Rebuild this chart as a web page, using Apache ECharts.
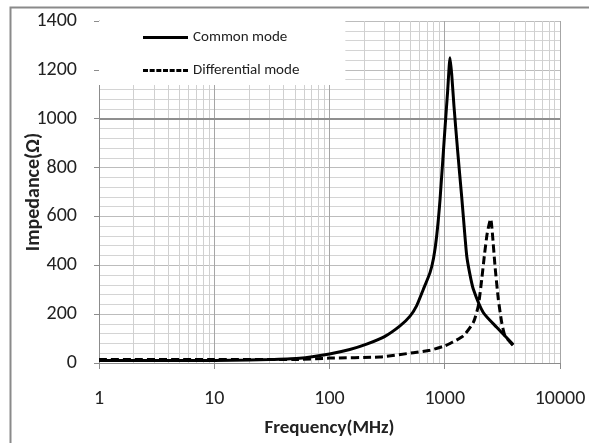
<!DOCTYPE html>
<html>
<head>
<meta charset="utf-8">
<script src="https://cdn.jsdelivr.net/npm/echarts@6/dist/echarts.min.js"></script>
<style>html,body{margin:0;padding:0;background:#fff;}#c{width:589px;height:443px;}</style>
</head>
<body>
<div id="c"></div>
<script>
// Data (frequency in MHz, impedance in Ohm)
var commonFreq = [1, 2, 5, 10, 20, 30, 55, 100, 150, 210, 300, 409, 500, 571, 650, 745, 800, 851, 910, 1000, 1060, 1111, 1150, 1203, 1300, 1403, 1449, 1550, 1650, 1771, 2158, 2823, 3936];
var commonZ    = [10, 10, 10, 10, 12, 14, 19, 37, 55, 77, 108, 152, 192, 235, 300, 370, 430, 520, 669, 947, 1114, 1250, 1180, 1050, 857, 680, 600, 440, 365, 302, 207, 146, 75];
var diffFreq = [1, 10, 50, 100, 274, 534, 745, 1000, 1111, 1449, 1771, 1955, 2094, 2205, 2340, 2504, 2588, 2729, 2917, 3121, 3333, 3936];
var diffZ    = [14, 14, 14, 20, 25, 42, 52, 70, 80, 111, 166, 234, 343, 438, 533, 590, 533, 397, 261, 166, 111, 71];
var seriesNames = ['Common mode', 'Differential mode'];
var yTicks = [0, 200, 400, 600, 800, 1000, 1200, 1400];
var xDecades = [1, 10, 100, 1000, 10000];
var xMinorGrid = [2,3,4,5,6,7,8,9,20,30,40,50,60,70,80,90,200,300,400,500,600,700,800,900,2000,3000,4000,5000,6000,7000,8000,9000];
var yEmphasisLine = [1000];

function pairs(xs, ys){ return xs.map(function(x,i){ return [x, ys[i]]; }); }

// legend icons: solid bar and dashed bar
var solidIcon = 'path://M0,0h45v3h-45z';
var dashParts = [];
for (var k = 0; k < 7; k++) { var s = (k * 6.67).toFixed(2); dashParts.push('M' + s + ',0h5v3h-5z'); }
var dashIcon = 'path://' + dashParts.join(' ') + ' M45,0h0.01v3h-0.01z';

var FONT = "Carlito, Calibri, 'Liberation Sans', Arial, sans-serif";
var chart = echarts.init(document.getElementById('c'), null, {renderer:'canvas'});
chart.setOption({
  animation: false,
  backgroundColor: '#fff',
  textStyle: {fontFamily: FONT},
  graphic: [{
    type: 'rect', left: 8, top: 5, z: -10,
    shape: {width: 620, height: 480},
    style: {fill: 'none', stroke: '#8a8a8a', lineWidth: 2}
  }],
  grid: {left: 99, right: 29, top: 21, bottom: 79},
  legend: {
    data: [{name: seriesNames[0], icon: solidIcon}, {name: seriesNames[1], icon: dashIcon}],
    orient: 'vertical',
    left: 99, top: 21,
    padding: [8, 46, 6, 44],
    itemGap: 16,
    itemWidth: 45, itemHeight: 3,
    backgroundColor: '#fff',
    textStyle: {fontFamily: FONT, fontSize: 15, color: '#222', lineHeight: 17},
    z: 10
  },
  xAxis: {
    type: 'log', logBase: 10, min: 1, max: 10000,
    name: 'Frequency(MHz)', nameLocation: 'middle', nameGap: 56, nameMoveOverlap: false,
    nameTextStyle: {fontFamily: FONT, fontSize: 19, fontWeight: 'bold', color: '#222'},
    axisLine: {show: true, lineStyle: {color: '#8c8c8c', width: 1}},
    axisTick: {show: true, length: 6, lineStyle: {color: '#8c8c8c'}},
    axisLabel: {margin: 26, fontSize: 20, color: '#222', fontFamily: FONT,
      formatter: function(v){ return xDecades.indexOf(Math.round(v)) >= 0 ? String(Math.round(v)) : ''; }},
    splitLine: {show: true, lineStyle: {color: '#a6a6a6', width: 1}}
  },
  yAxis: {
    type: 'value', min: yTicks[0], max: yTicks[yTicks.length-1], interval: 200,
    name: 'Impedance(Ω)', nameLocation: 'middle', nameGap: 55, nameMoveOverlap: false,
    nameTextStyle: {fontFamily: FONT, fontSize: 20, fontWeight: 'bold', color: '#222'},
    axisLine: {show: true, lineStyle: {color: '#8c8c8c', width: 1}},
    axisTick: {show: true, length: 5, lineStyle: {color: '#8c8c8c'}},
    axisLabel: {margin: 22, fontSize: 20, color: '#222', fontFamily: FONT,
      formatter: function(v){ return String(v); }},
    splitLine: {show: true, lineStyle: {color: '#bcbcbc', width: 1}},
    minorTick: {show: false, splitNumber: 5},
    minorSplitLine: {show: true, lineStyle: {color: '#d4d4d4', width: 1}}
  },
  series: [
    {
      name: 'grid-minor', type: 'line', data: [], silent: true,
      markLine: {
        silent: true, symbol: 'none', animation: false,
        label: {show: false},
        lineStyle: {color: '#d0d0d0', width: 1, type: 'solid'},
        data: xMinorGrid.map(function(v){ return {xAxis: v}; })
      }
    },
    {
      name: 'grid-major', type: 'line', data: [], silent: true,
      markLine: {
        silent: true, symbol: 'none', animation: false,
        label: {show: false},
        lineStyle: {color: '#8f8f8f', width: 2, type: 'solid'},
        data: yEmphasisLine.map(function(v){ return {yAxis: v}; })
      }
    },
    {
      name: seriesNames[0], type: 'line', data: pairs(commonFreq, commonZ),
      showSymbol: false, symbol: 'none', smooth: 0.2, z: 5,
      lineStyle: {color: '#000', width: 3, type: 'solid'},
      itemStyle: {color: '#000'}
    },
    {
      name: seriesNames[1], type: 'line', data: pairs(diffFreq, diffZ),
      showSymbol: false, symbol: 'none', smooth: 0.2, z: 5,
      lineStyle: {color: '#000', width: 3, type: [8, 4]},
      itemStyle: {color: '#000'}
    }
  ]
});
</script>
</body>
</html>
